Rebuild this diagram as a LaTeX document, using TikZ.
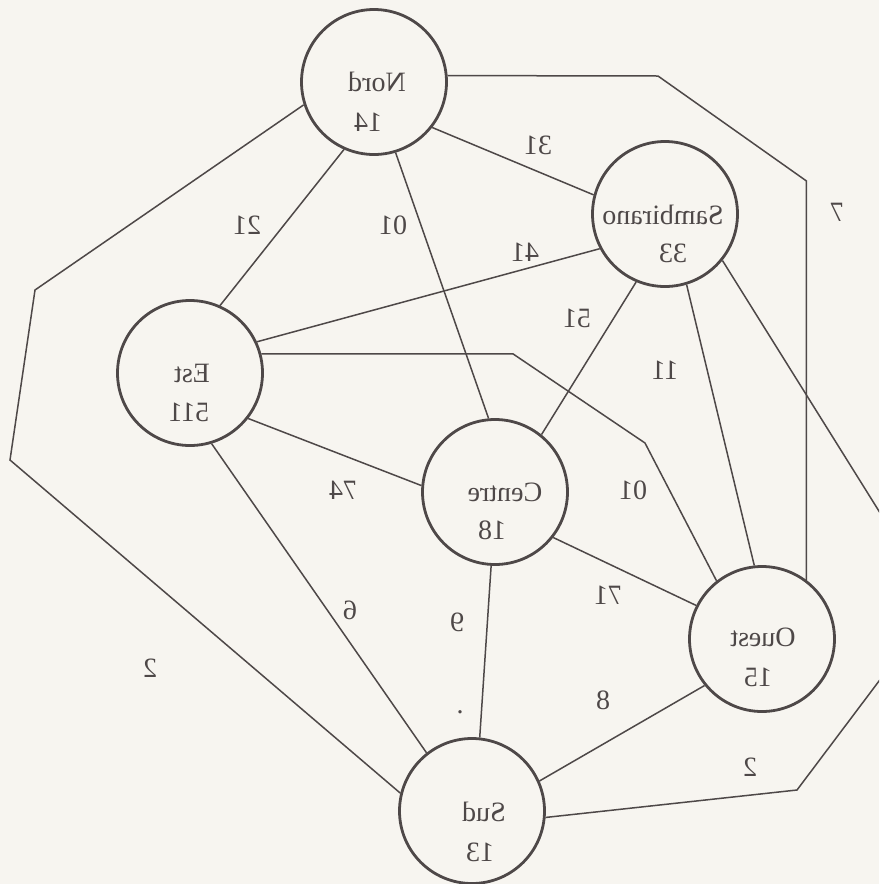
\documentclass[tikz,border=0pt]{standalone}
\usepackage{graphicx}
\usepackage{fontspec}
\setmainfont{Liberation Serif}
\usetikzlibrary{calc}
\definecolor{bg}{RGB}{247,245,240}
\definecolor{ink}{RGB}{78,72,72}
\begin{document}
\begin{tikzpicture}[x=1pt,y=-1pt,
  city/.style={circle,draw=ink,line width=2.8pt,minimum size=145pt,inner sep=0pt},
  edge/.style={draw=ink,line width=1.5pt,line join=miter},
  lbl/.style={text=ink,font=\fontsize{28}{30}\selectfont,inner sep=0pt},
]
\fill[bg] (0,0) rectangle (879,884);
\useasboundingbox (0,0) rectangle (879,884);
\clip (0,0) rectangle (879,884);

% cities
\node[city] (nord) at (374,82) {};
\node[city] (samb) at (665,214) {};
\node[city] (est) at (190,373) {};
\node[city] (centre) at (495,492) {};
\node[city] (ouest) at (762,639) {};
\node[city] (sud) at (472,811) {};

\node[lbl] (nordn) at (377,82) {\reflectbox{Nord}};
\node[lbl] (nordp) at (368,122) {\reflectbox{14}};
\node[lbl] (sambn) at (663,215) {\reflectbox{Sambirano}};
\node[lbl] (sambp) at (673,253) {\reflectbox{33}};
\node[lbl] (estn) at (192,373) {\reflectbox{Est}};
\node[lbl] (estp) at (189,412) {\reflectbox{511}};
\node[lbl] (centren) at (505,492) {\reflectbox{Centre}};
\node[lbl] (centrep) at (492,530) {\reflectbox{18}};
\node[lbl] (ouestn) at (763,637) {\reflectbox{Ouest}};
\node[lbl] (ouestp) at (758,677) {\reflectbox{15}};
\node[lbl] (sudn) at (484,812) {\reflectbox{Sud}};
\node[lbl] (sudp) at (480,852) {\reflectbox{13}};

% bend points
\coordinate (no1) at (658,76);
\coordinate (no2) at (806,181);
\coordinate (ns1) at (35,290);
\coordinate (ns2) at (10,460);
\coordinate (ss1) at (937,604);
\coordinate (ss2) at (797,790);
\coordinate (eo1) at (513,353);
\coordinate (eo2) at (645,443);

% connectors
\draw[edge] (nord.-38) -- (samb.165);
\draw[edge] (nord.-114) -- (est.66);
\draw[edge] (nord.-73) -- (centre.95);
\draw[edge] (nord.5) -- (no1) -- (ouest.53 |- no2) -- (ouest.53);
\draw[edge] (nord.-162) -- (ns1) -- (ns2) -- (sud.166);
\draw[edge] (samb.-152) -- (est.25);
\draw[edge] (samb.-113) -- (centre.51);
\draw[edge] (samb.-73) -- (ouest.96);
\draw[edge] (samb.-39) -- (ss1) -- (ss2) -- (sud.-5);
\draw[edge] (est.15) -- (est.15 -| eo1) -- (eo2) -- (ouest.128);
\draw[edge] (est.-38) -- (centre.175);
\draw[edge] (est.-73) -- (sud.128);
\draw[edge] (centre.-38) -- (ouest.153);
\draw[edge] (centre.-93) -- (sud.84);
\draw[edge] (ouest.-141) -- (sud.24);

% weights
\node[lbl] (w1) at (538,145) {\reflectbox{31}};
\node[lbl] (w2) at (247,225) {\reflectbox{21}};
\node[lbl] (w3) at (393,225) {\reflectbox{01}};
\node[lbl] (w4) at (837,212) {\reflectbox{7}};
\node[lbl] (w5) at (150,668) {\reflectbox{2}};
\node[lbl] (w6) at (525,252) {\reflectbox{41}};
\node[lbl] (w7) at (577,318) {\reflectbox{51}};
\node[lbl] (w8) at (665,370) {\reflectbox{11}};
\node[lbl] (w9) at (750,767) {\reflectbox{2}};
\node[lbl] (w10) at (633,490) {\reflectbox{01}};
\node[lbl] (w11) at (343,490) {\reflectbox{74}};
\node[lbl] (w12) at (350,610) {\reflectbox{6}};
\node[lbl] (w13) at (608,595) {\reflectbox{71}};
\node[lbl] (w14) at (457,622) {\reflectbox{9}};
\node[lbl] (w15) at (603,700) {\reflectbox{8}};
\node[lbl] (dot) at (460,712) {.};
\end{tikzpicture}
\end{document}
